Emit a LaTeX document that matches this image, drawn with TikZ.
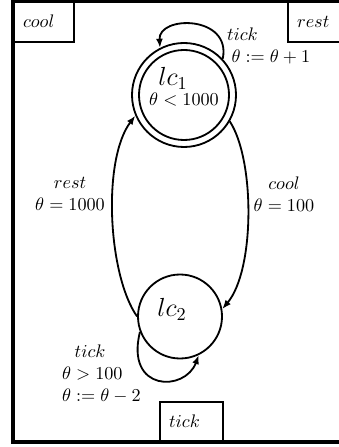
\documentclass[tikz,border=0pt]{standalone}
\usetikzlibrary{arrows.meta}
\begin{document}
\begin{tikzpicture}[x=0.55pt,y=-0.55pt,
  statenode/.style={circle,draw,line width=1pt,inner sep=0pt},
  txt/.style={inner sep=0pt,outer sep=0pt},
  trans/.style={line width=1pt,-{Latex[length=5pt,width=3.8pt]}},
  clockbox/.style={draw,line width=1.1pt,inner ysep=0pt,inner xsep=5pt,minimum height=22.5pt},
  frameline/.style={line width=2.2pt}]
\useasboundingbox (0,0) rectangle (339,447);
\begin{scope}
\clip (0,0) rectangle (339,447);
\node[clockbox,anchor=north west,text width=23pt] (coolbox) at (13,0) {$cool$};
\node[clockbox,anchor=north west,text width=23pt] (restbox) at (287,0) {$rest$};
\node[clockbox,anchor=south west,text width=24.6pt,minimum height=21pt] (tickbox) at (159,441.5) {$tick$};
\coordinate (f1) at (13,1.5);
\coordinate (f2) at (420,441.5);
\draw[frameline] (f1) rectangle (f2);
\end{scope}
% states
\node[statenode,minimum size=57.2pt] (lc1) at (184,95) {};
\node[statenode,minimum size=49.5pt] (lc1in) at (184,95) {};
\node[txt] (lc1name) at (173,78) {\Large $lc_1$};
\node[txt] (lc1inv) at (184,100) {$\theta<1000$};
\node[statenode,minimum size=46.2pt] (lc2) at (180,316.5) {};
\node[txt] (lc2name) at (172,309) {\Large $lc_2$};
% transitions
\draw[trans] (lc1.-30) .. controls (255,160) and (255,270) .. (lc2.10);
\draw[trans] (lc2.180) .. controls (108,275) and (102,160) .. (lc1.203);
\draw[trans] (lc1.43) .. controls (232,15) and (158,15) .. (lc1.117);
\draw[trans] (lc2.201) .. controls (125,392) and (185,392) .. (lc2.-64);
% labels
\node[txt,align=left,anchor=west] (l1) at (227,46) {$tick$\\\hspace*{2.5pt}$\theta:=\theta+1$};
\node[txt,align=center] (l2) at (70,194) {$rest$\\$\theta=1000$};
\node[txt,align=center] (l3) at (284,194) {$cool$\\$\theta=100$};
\node[txt,align=left,anchor=west] (l4) at (62,374) {\hspace*{7pt}$tick$\\$\theta>100$\\$\theta:=\theta-2$};
\end{tikzpicture}
\end{document}
